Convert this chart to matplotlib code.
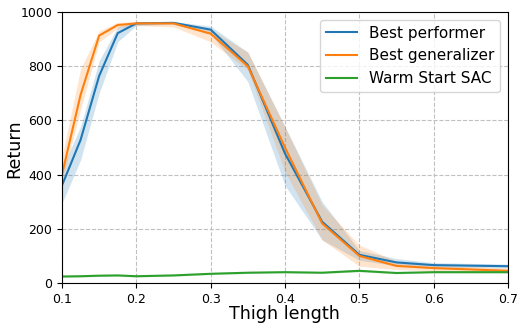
import matplotlib
matplotlib.use("Agg")
import matplotlib.pyplot as plt
import numpy as np

thigh = [0.1, 0.125, 0.15, 0.175, 0.2, 0.25, 0.3, 0.35, 0.4, 0.45, 0.5, 0.55, 0.6, 0.7]

perf_mean = [360, 528, 764, 922, 958, 960, 935, 805, 478, 226, 104, 76, 66, 62]
perf_lo   = [294, 454, 700, 890, 950, 955, 920, 743, 360, 159, 84, 64, 58, 55]
perf_hi   = [424, 577, 820, 945, 965, 965, 948, 852, 577, 300, 120, 90, 75, 70]

gen_mean = [400, 694, 913, 952, 958, 958, 920, 800, 500, 220, 100, 63, 55, 45]
gen_lo   = [375, 640, 890, 940, 950, 945, 890, 786, 411, 159, 62, 50, 45, 38]
gen_hi   = [466, 790, 930, 962, 964, 965, 935, 852, 577, 288, 140, 80, 65, 55]

sac_mean = [24, 25, 27, 28, 25, 28, 34, 38, 40, 38, 45, 37, 40, 40]
sac_lo   = [21, 22, 24, 25, 22, 25, 31, 35, 37, 35, 41, 34, 37, 37]
sac_hi   = [27, 28, 30, 31, 28, 31, 37, 41, 43, 41, 49, 40, 43, 43]

fig = plt.figure(figsize=(5.23, 3.29), dpi=100)
ax = fig.add_axes([0.1185, 0.1398, 0.8528, 0.8237])

series = [
    ("Best performer", perf_mean, perf_lo, perf_hi, "#1f77b4"),
    ("Best generalizer", gen_mean, gen_lo, gen_hi, "#ff7f0e"),
    ("Warm Start SAC", sac_mean, sac_lo, sac_hi, "#2ca02c"),
]
for name, m, lo, hi, c in series:
    ax.plot(thigh, m, color=c, lw=1.5, label=name)
    ax.fill_between(thigh, lo, hi, color=c, alpha=0.2, lw=0)

ax.set_xlim(0.1, 0.7)
ax.set_ylim(0, 1000)
ax.set_xticks([0.1, 0.2, 0.3, 0.4, 0.5, 0.6, 0.7])
ax.set_yticks([0, 200, 400, 600, 800, 1000])
ax.tick_params(labelsize=9)
ax.grid(True, linestyle="--", color="#c0c0c0", lw=0.8)
ax.set_axisbelow(True)
ax.set_xlabel("Thigh length", fontsize=12.6)
ax.set_ylabel("Return", fontsize=12.6)
ax.xaxis.set_label_coords(0.498, -0.081)
ax.yaxis.set_label_coords(-0.087, 0.494)
leg = ax.legend(loc="upper right", fontsize=11, handlelength=2.0)

fig.savefig("out.png", dpi=100)
